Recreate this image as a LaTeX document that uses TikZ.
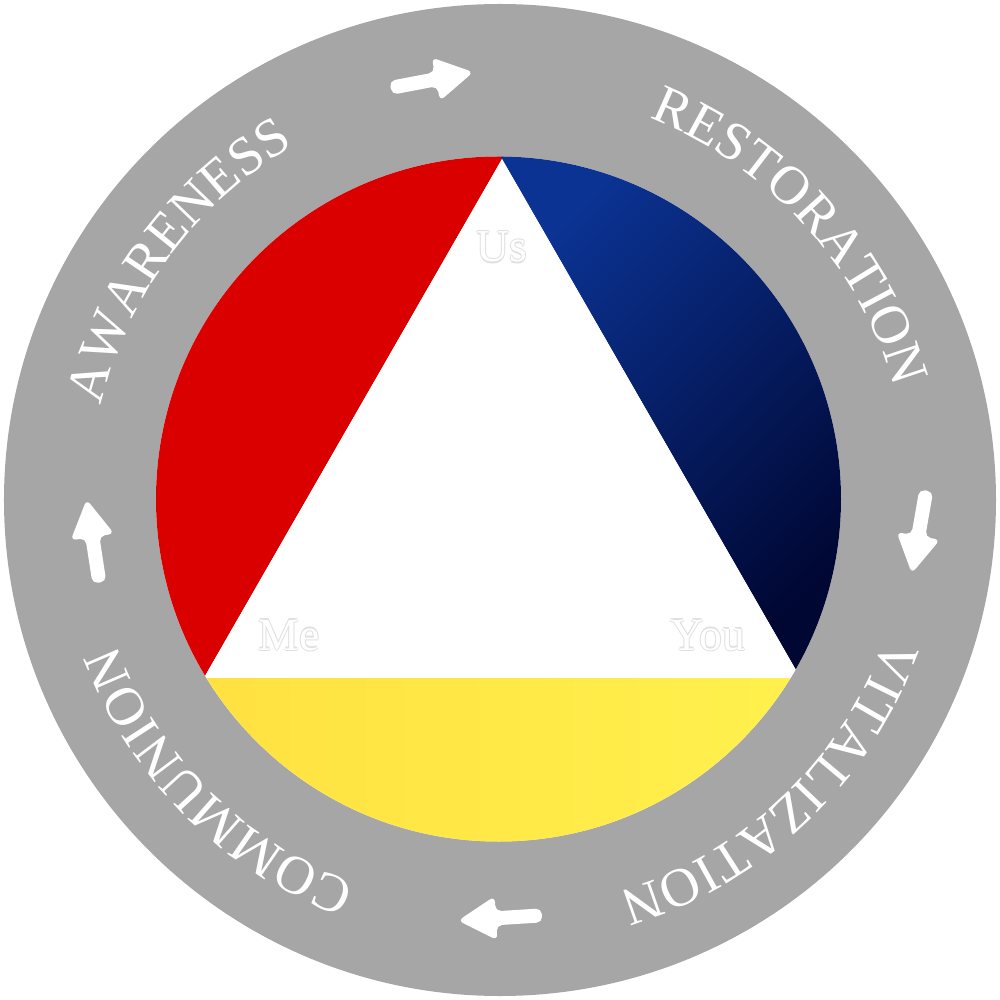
\documentclass[tikz,border=0pt]{standalone}
\usepackage{fontspec}
\setmainfont{Liberation Serif}
\usetikzlibrary{decorations.text,calc}
\definecolor{ringgray}{HTML}{A6A6A6}
\definecolor{segred}{HTML}{DA0000}
\definecolor{blueTL}{HTML}{0B3393}
\definecolor{blueBR}{HTML}{000733}
\definecolor{yelL}{HTML}{FFE040}
\definecolor{yelR}{HTML}{FFF24E}
\definecolor{labgray}{HTML}{E0E0E0}
\newcommand\ringfont{\fontsize{15.5}{18}\selectfont}
\newcommand\haloword[1]{\leavevmode\rlap{\color{labgray}\kern-0.3pt #1}\rlap{\color{labgray}\kern0.3pt #1}\rlap{\color{labgray}\raisebox{0.3pt}{#1}}\rlap{\color{labgray}\raisebox{-0.3pt}{#1}}\textcolor{white}{#1}}
\tikzset{
  ringtext/.style={decorate, decoration={text along path, text align=center, text={|\color{white}\ringfont|#1}}},
  ringarrow/.pic={\fill[white, rounded corners=1.6pt] (-42,-7) -- (4,-7) -- (4,-22) -- (42,0) -- (4,22) -- (4,7) -- (-42,7) -- cycle;},
  lab/.style={anchor=base, inner sep=0pt, font=\fontsize{13}{15}\selectfont}
}
\begin{document}
\begin{tikzpicture}[x=0.01cm,y=0.01cm]
\useasboundingbox (-500,-500) rectangle (500,500);
% ring
\fill[ringgray] (0,0) circle[radius=496];
% triangle vertices
\coordinate (T) at (2,341);
\coordinate (BL) at (-295,-176);
\coordinate (BR) at (300,-177);
\begin{scope}
  \clip (-1.5,1) circle[radius=342.5];
  \fill[white] (-350,-350) rectangle (350,350);
  \fill[segred] ($(T)!-1!(BL)$) -- ($(BL)!-1!(T)$) -- (-700,-700) -- (-700,860) -- cycle;
  \begin{scope}
    \clip ($(T)!-1!(BR)$) -- ($(BR)!-1!(T)$) -- (700,-700) -- (700,860) -- cycle;
    \shade[top color=blueTL, bottom color=blueBR, shading angle=45] (0,345) rectangle (345,-180);
  \end{scope}
  \shade[left color=yelL, right color=yelR] (-345,-178) rectangle (345,-345);
  \fill[white] (T) -- (BL) -- (BR) -- cycle;
\end{scope}
% labels inside triangle
\node[lab] (us) at (2,238) {\haloword{Us}};
\node[lab] (me) at (-211,-150) {\haloword{Me}};
\node[lab] (you) at (208,-150) {\haloword{You}};
% ring texts (centred on their mid angles)
\path[ringtext=AWARENESS] (178.4:410) arc[start angle=178.4, end angle=108.4, radius=410];
\path[ringtext=RESTORATION] (77.25:410) arc[start angle=77.25, end angle=7.25, radius=410];
\path[ringtext=VITALIZATION] (-11.4:410) arc[start angle=-11.4, end angle=-81.4, radius=410];
\path[ringtext=COMMUNION] (260:410) arc[start angle=260, end angle=190, radius=410];
% arrows
\pic[rotate=10.8] at (-68,420) {ringarrow};
\pic[rotate=-99.9] at (419,-32) {ringarrow};
\pic[rotate=183.6] at (0,-418) {ringarrow};
\pic[rotate=98.7] at (-407,-41) {ringarrow};
\end{tikzpicture}
\end{document}
